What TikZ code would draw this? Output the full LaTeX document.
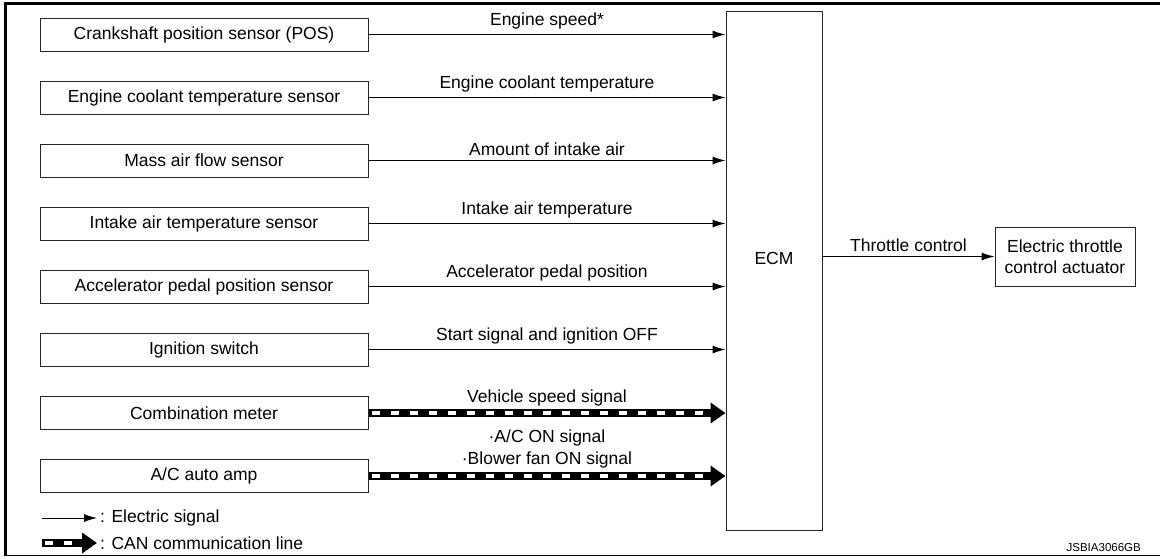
\documentclass[tikz,border=0pt]{standalone}
\usepackage{fontspec}
\setmainfont{Liberation Sans}
\usetikzlibrary{arrows.meta}
\begin{document}
\begin{tikzpicture}[x=1pt,y=-1pt,
  every node/.style={font=\fontsize{17.5}{21}\selectfont},
  box/.style={draw=black!85, line width=1pt, minimum width=328pt, minimum height=33pt, inner sep=0pt},
  sig/.style={line width=1pt, -{Latex[length=13pt,width=8pt]}},
  can/.style={line width=8pt, -{Triangle[length=15pt,width=20pt]},
    postaction={draw=white, line width=3.5pt, dash pattern=on 8pt off 11pt, dash phase=-3pt, -, shorten >=17pt}},
  lab/.style={midway, above=5pt, inner sep=0pt, outer sep=0pt},
  canlab/.style={midway, above=6.5pt, inner sep=0pt, outer sep=0pt, line width=1pt}]
\useasboundingbox (0,0) rectangle (1160,558);
% frame
\draw[line width=3.5pt] (4,3.5) -- (1160,3.5);
\draw[line width=3pt] (5.5,2) -- (5.5,556);
\draw[line width=1.5pt] (4,555.5) -- (1160,555.5);
% ECM
\node[draw=black!85, line width=1pt, minimum width=96pt, minimum height=519pt, inner sep=0pt,
  label={[yshift=12.5pt]center:ECM}] (ecm) at (774,270.5) {};
% sensors
\node[box] (n1) at (204,34.5) {Crankshaft position sensor (POS)};
\node[box] (n2) at (204,97.5) {Engine coolant temperature sensor};
\node[box] (n3) at (204,160.5) {Mass air flow sensor};
\node[box] (n4) at (204,223.5) {Intake air temperature sensor};
\node[box] (n5) at (204,286.5) {Accelerator pedal position sensor};
\node[box] (n6) at (204,349.5) {Ignition switch};
\node[box] (n7) at (204,413) {Combination meter};
\node[box] (n8) at (204,476) {A/C auto amp};
% actuator
\node[draw=black!85, line width=1pt, minimum width=140pt, minimum height=59pt, inner sep=0pt, align=center]
  (act) at (1065,256.5) {Electric throttle\\control actuator};
% signals
\draw[sig] (n1.east) -- (n1.east -| ecm.west) node[lab] {Engine speed*};
\draw[sig] (n2.east) -- (n2.east -| ecm.west) node[lab] {Engine coolant temperature};
\draw[sig] (n3.east) -- (n3.east -| ecm.west) node[lab] {Amount of intake air};
\draw[sig] (n4.east) -- (n4.east -| ecm.west) node[lab] {Intake air temperature};
\draw[sig] (n5.east) -- (n5.east -| ecm.west) node[lab] {Accelerator pedal position};
\draw[sig] (n6.east) -- (n6.east -| ecm.west) node[lab] {Start signal and ignition OFF};
\draw[can] (n7.east) -- (n7.east -| ecm.west) node[canlab] {Vehicle speed signal};
\draw[can] (n8.east) -- (n8.east -| ecm.west) node[canlab, above=1.5pt, align=center,
  font=\fontsize{17.5}{22}\selectfont] {·A/C ON signal\\·Blower fan ON signal};
\draw[sig] (act.west -| ecm.east) -- (act.west) node[lab] {Throttle control};
% legend
\coordinate (l1s) at (42,518);
\coordinate (l1e) at (97,518);
\draw[sig] (l1s) -- (l1e);
\node[anchor=west, inner sep=0pt] (t1) at (100,518) {: Electric signal};
\coordinate (l2s) at (42,543);
\coordinate (l2e) at (97,543);
\draw[can] (l2s) -- (l2e);
\node[anchor=west, inner sep=0pt] (t2) at (100,543) {: CAN communication line};
\node[anchor=east, inner sep=0pt, font=\fontsize{11.5}{13}\selectfont] (code) at (1141,548) {JSBIA3066GB};
\end{tikzpicture}
\end{document}
